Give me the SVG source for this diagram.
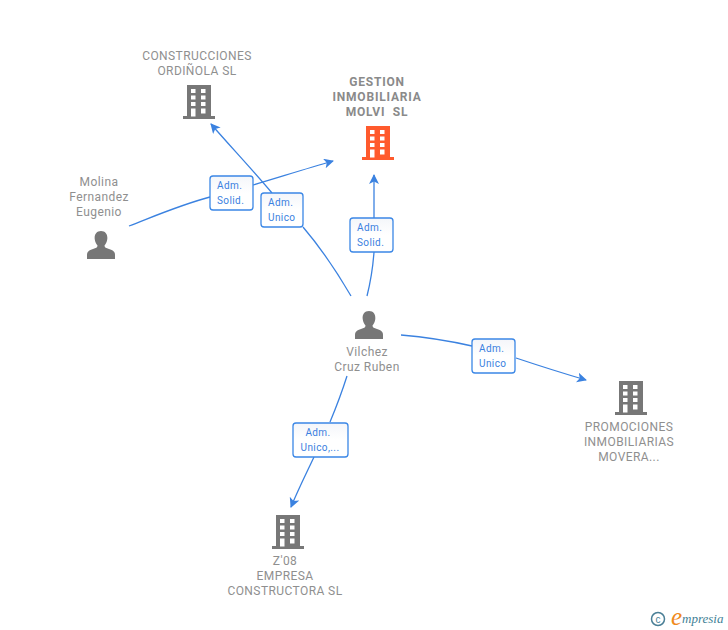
<svg xmlns="http://www.w3.org/2000/svg" width="728" height="630" viewBox="0 0 728 630">
<style>
.t{font:12px Roboto,"Liberation Sans",sans-serif;fill:#8f8f8f;text-anchor:middle;letter-spacing:.42px}
.b{font-weight:700;font-size:12px;fill:#8a8a8a;letter-spacing:.8px;white-space:pre}
.l{font:10px Roboto,"Liberation Sans",sans-serif;fill:#3a7fe0;letter-spacing:.4px}
.c{fill:none;stroke:#3b82e0;stroke-width:1.3}
.box{stroke:#3b87e6;stroke-width:1.3;fill:url(#g)}
.w{fill:#fff}
</style>
<defs>
<marker id="a" markerWidth="12" markerHeight="12" refX="9" refY="5" orient="auto" markerUnits="userSpaceOnUse"><path d="M0 0L10 5L0 10L2.500 5Z" fill="#3b82e0"/></marker>
<linearGradient id="g" x1="0" y1="0" x2="0" y2="1"><stop offset="0" stop-color="#f4f6fa"/><stop offset=".5" stop-color="#fff"/></linearGradient>
<g id="bld"><path d="M4 0H28V31H32V34H0V31H4Z"/><path class="w" d="M8 4h4.500v4h-4.500zM18 4h4.500v4h-4.500zM8 10.500h4.500v4h-4.500zM18 10.500h4.500v4h-4.500zM8 17h4.500v4h-4.500zM18 17h4.500v4h-4.500zM8 23.500h4.500v8h-4.500zM18 23.500h4.500v5h-4.500z"/></g>
<path id="per" d="M14 0C18.500 0 20.800 3.500 20.300 8C20 11 18.800 13 17.500 14.500C17.500 16.500 19 17 22 18C26 19.300 28 20.500 28 24V28H0V24C0 20.500 2 19.300 6 18C9 17 10.500 16.500 10.500 14.500C9.200 13 8 11 7.700 8C7.200 3.500 9.500 0 14 0Z"/>
</defs>
<g id="connectors">
<path class="c" d="M303 227C320 247 337 272 351 296"/>
<path class="c" marker-end="url(#a)" d="M272 193C250 167 230 146 211 124"/>
<path class="c" d="M129 226C155 216 180 205 210 197"/>
<path class="c" marker-end="url(#a)" d="M253 185C280 177 305 169 333 161"/>
<path class="c" d="M367 296C371 280 373 266 374 252"/>
<path class="c" marker-end="url(#a)" d="M374 218C374 205 374 190 374 175"/>
<path class="c" d="M401 335C425 337 450 341 472 346"/>
<path class="c" marker-end="url(#a)" d="M516 358C540 366 562 373 586 380"/>
<path class="c" d="M347 376C341 395 335 410 330 422"/>
<path class="c" marker-end="url(#a)" d="M314 457C306 474 298 490 291 507"/>
</g>
<g id="n1" fill="#777"><use href="#bld" x="183" y="85"/><text class="t"><tspan x="197" y="60">CONSTRUCCIONES</tspan><tspan x="197" y="75">ORDIÑOLA SL</tspan></text></g>
<g id="n2" fill="#ff5a2d"><use href="#bld" x="362" y="126"/><text class="t b"><tspan x="377" y="86">GESTION</tspan><tspan x="377" y="101">INMOBILIARIA</tspan><tspan x="377" y="116">MOLVI  SL</tspan></text></g>
<g id="n3" fill="#777"><use href="#per" x="87" y="231"/><text class="t"><tspan x="99" y="186">Molina</tspan><tspan x="99" y="201">Fernandez</tspan><tspan x="99" y="216">Eugenio</tspan></text></g>
<g id="n4" fill="#777"><use href="#per" x="355" y="311"/><text class="t"><tspan x="367" y="356">Vilchez</tspan><tspan x="367" y="371">Cruz Ruben</tspan></text></g>
<g id="n5" fill="#777"><use href="#bld" x="615" y="381"/><text class="t"><tspan x="629" y="431">PROMOCIONES</tspan><tspan x="629" y="446">INMOBILIARIAS</tspan><tspan x="629" y="461">MOVERA...</tspan></text></g>
<g id="n6" fill="#777"><use href="#bld" x="272" y="515"/><text class="t"><tspan x="285" y="565">Z'08</tspan><tspan x="285" y="580">EMPRESA</tspan><tspan x="285" y="595">CONSTRUCTORA SL</tspan></text></g>
<g id="e1"><rect class="box" x="210" y="176" width="43" height="34" rx="3"/><text class="l"><tspan x="217" y="189">Adm.</tspan><tspan x="217" y="204">Solid.</tspan></text></g>
<g id="e2"><rect class="box" x="261" y="193" width="42" height="34" rx="3"/><text class="l"><tspan x="268" y="206">Adm.</tspan><tspan x="268" y="221">Unico</tspan></text></g>
<g id="e3"><rect class="box" x="350" y="218" width="43" height="34" rx="3"/><text class="l"><tspan x="357" y="231">Adm.</tspan><tspan x="357" y="246">Solid.</tspan></text></g>
<g id="e4"><rect class="box" x="472" y="339" width="43" height="34" rx="3"/><text class="l"><tspan x="479" y="352">Adm.</tspan><tspan x="479" y="367">Unico</tspan></text></g>
<g id="e5"><rect class="box" x="293" y="423" width="55" height="34" rx="3"/><text class="l" text-anchor="middle"><tspan x="318" y="436">Adm.</tspan><tspan x="320" y="451">Unico,...</tspan></text></g>
<g id="logo"><circle cx="658" cy="619" r="6.500" fill="none" stroke="#4a7f96" stroke-width="1.500"/><text x="658" y="622.500" font-family="Liberation Sans,sans-serif" font-size="10" fill="#4a7f96" text-anchor="middle">c</text><text x="671" y="625" font-family="Liberation Serif,serif" font-style="italic" font-size="25" fill="#f08a1c">e</text><text x="682" y="623" font-family="Liberation Serif,serif" font-style="italic" font-size="13" fill="#3f7f96">mpresia</text></g>
</svg>
